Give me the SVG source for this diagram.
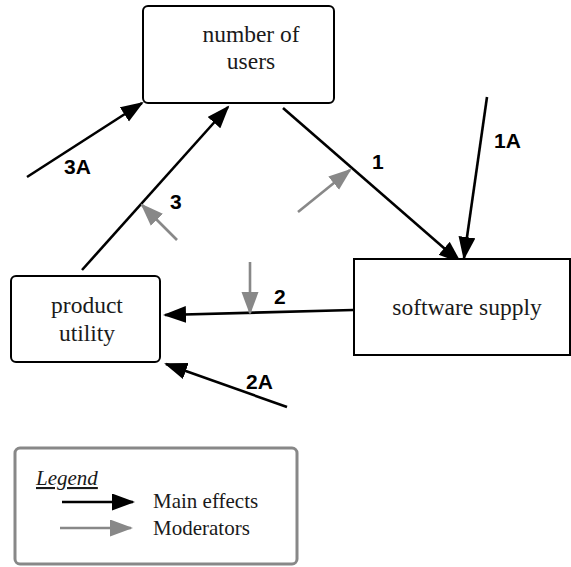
<svg xmlns="http://www.w3.org/2000/svg" width="571" height="567" viewBox="0 0 571 567">
  <style>
    .box { fill: #fff; stroke: #000; stroke-width: 2; }
    .node-text { font-family: "Liberation Serif", "Times New Roman", serif; font-size: 23.5px; fill: #1a1a1a; text-anchor: middle; }
    .label { font-family: "Liberation Sans", Arial, sans-serif; font-size: 21px; font-weight: bold; fill: #000; }
    .main { stroke: #000; stroke-width: 2.6; fill: none; marker-end: url(#head-main); }
    .mod { stroke: #888; stroke-width: 2.6; fill: none; marker-end: url(#head-mod); }
    .legend-text { font-family: "Liberation Serif", "Times New Roman", serif; font-size: 21px; fill: #1a1a1a; }
  </style>
  <defs>
    <marker id="head-main" markerUnits="userSpaceOnUse" markerWidth="24" markerHeight="18" refX="21" refY="8.5" orient="auto">
      <path d="M0,0 L23,8.5 L0,17 z" fill="#000"/>
    </marker>
    <marker id="head-mod" markerUnits="userSpaceOnUse" markerWidth="24" markerHeight="18" refX="21" refY="8.5" orient="auto">
      <path d="M0,0 L23,8.5 L0,17 z" fill="#888"/>
    </marker>
  </defs>

  <rect width="571" height="567" fill="#fff"/>

  <!-- connectors -->
  <g id="connectors">
    <line class="main" x1="283" y1="108" x2="460" y2="262"/>
    <line class="main" x1="487" y1="97" x2="464" y2="258"/>
    <line class="main" x1="353" y1="310" x2="165" y2="315"/>
    <line class="main" x1="287" y1="407" x2="166" y2="364"/>
    <line class="main" x1="82" y1="270" x2="228" y2="107"/>
    <line class="main" x1="27" y1="177" x2="142" y2="103"/>
    <line class="mod" x1="298" y1="212" x2="350" y2="170"/>
    <line class="mod" x1="250" y1="262" x2="250" y2="313"/>
    <line class="mod" x1="177" y1="240" x2="142" y2="205"/>
    <text class="label" x="372" y="169">1</text>
    <text class="label" x="494" y="148">1A</text>
    <text class="label" x="274" y="304">2</text>
    <text class="label" x="246" y="389">2A</text>
    <text class="label" x="170" y="209">3</text>
    <text class="label" x="64" y="174">3A</text>
  </g>

  <!-- nodes -->
  <g id="node-users">
    <rect class="box" x="143" y="6" width="191" height="97" rx="5"/>
    <text class="node-text" x="251" y="42">number of</text>
    <text class="node-text" x="251" y="69">users</text>
  </g>
  <g id="node-utility">
    <rect class="box" x="11" y="276" width="149" height="86" rx="5"/>
    <text class="node-text" x="87" y="313">product</text>
    <text class="node-text" x="87" y="341">utility</text>
  </g>
  <g id="node-software">
    <rect class="box" x="354" y="259" width="216" height="96"/>
    <text class="node-text" x="467" y="315">software supply</text>
  </g>

  <!-- legend -->
  <g id="legend">
    <rect x="15" y="448" width="282" height="116" rx="5" fill="#fff" stroke="#888" stroke-width="3"/>
    <text class="legend-text" x="36" y="485" font-style="italic" text-decoration="underline">Legend</text>
    <line class="main" x1="62" y1="502" x2="133" y2="502"/>
    <text class="legend-text" x="153" y="508">Main effects</text>
    <line class="mod" x1="60" y1="528" x2="131" y2="528"/>
    <text class="legend-text" x="153" y="535">Moderators</text>
  </g>
</svg>
